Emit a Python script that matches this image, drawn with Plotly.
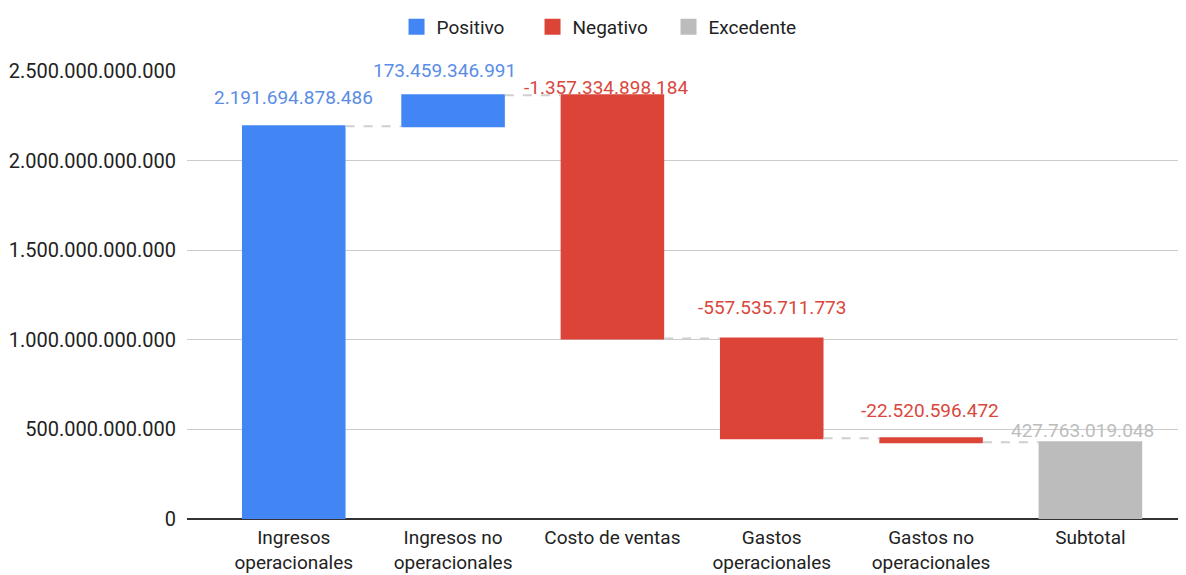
import plotly.graph_objects as go

categories = ["Ingresos<br>operacionales", "Ingresos no<br>operacionales", "Costo de ventas",
              "Gastos<br>operacionales", "Gastos no<br>operacionales", "Subtotal"]
values = [2191694878486, 173459346991, -1357334898184, -557535711773, -22520596472, 427763019048]
measures = ["relative", "relative", "relative", "relative", "relative", "total"]
legend_names = ["Positivo", "Negativo", "Excedente"]
y_ticks = [0, 500e9, 1000e9, 1500e9, 2000e9, 2500e9]

BLUE, RED, GRAY = "#4285f4", "#db4437", "#bcbcbc"
LBL_BLUE, LBL_RED, LBL_GRAY = "#5a8de6", "#d9473d", "#bdbdbd"
FONT = "Roboto, Arial, sans-serif"

# label placement tweaks (pixels), styling only
label_yshift = [29, 25, 8, 31, 28, 12]
label_xshift = [0, -9, -6, 0, -1, -8]

fig = go.Figure()
fig.add_trace(go.Waterfall(
    x=categories, y=values, measure=measures, width=0.65,
    increasing=dict(marker=dict(color=BLUE)),
    decreasing=dict(marker=dict(color=RED)),
    totals=dict(marker=dict(color=GRAY)),
    connector=dict(line=dict(color="#cfcfcf", width=2, dash="dash")),
    showlegend=False, hoverinfo="skip",
))

for name, col in zip(legend_names, [BLUE, RED, GRAY]):
    fig.add_trace(go.Scatter(x=[None], y=[None], mode="markers", name=name,
                             marker=dict(symbol="square", size=20, color=col)))

def fmt(v):
    return f"{v:,}".replace(",", ".")

running = 0
for i, (m, v) in enumerate(zip(measures, values)):
    if m == "total":
        top = running
        col = LBL_GRAY
    else:
        start = running
        running += v
        top = max(start, running)
        col = LBL_BLUE if v >= 0 else LBL_RED
    fig.add_annotation(x=i, y=top, xref="x", yref="y", text=fmt(v), showarrow=False,
                       yanchor="middle", yshift=label_yshift[i], xshift=label_xshift[i],
                       font=dict(family=FONT, size=19, color=col))

# page body has an 8px margin; figure sized so the plot area lands where the reference has it
fig.update_layout(
    width=1178, height=567,
    margin=dict(l=179, r=0, t=63, b=56, autoexpand=False),
    paper_bgcolor="white", plot_bgcolor="white",
    separators=",.",
    font=dict(family=FONT, size=19, color="#222222"),
    legend=dict(orientation="h", x=0.503, xanchor="center", xref="container",
                y=1, yanchor="top", yref="container",
                font=dict(family=FONT, size=19, color="#222222"),
                entrywidth=91, entrywidthmode="pixels"),
    xaxis=dict(range=[-0.67, 5.6], showgrid=False, ticks="", showline=False,
               ticklabelstandoff=5,
               tickfont=dict(family=FONT, size=19, color="#222222")),
    yaxis=dict(range=[0, 2500e9], tickvals=y_ticks, tickformat=",.0f",
               showgrid=True, gridcolor="#cccccc", gridwidth=1,
               zeroline=True, zerolinecolor="#333333", zerolinewidth=2,
               ticks="", ticklabelstandoff=10, showline=False,
               tickfont=dict(family=FONT, size=20, color="#222222")),
)

fig.write_html("out.html")
